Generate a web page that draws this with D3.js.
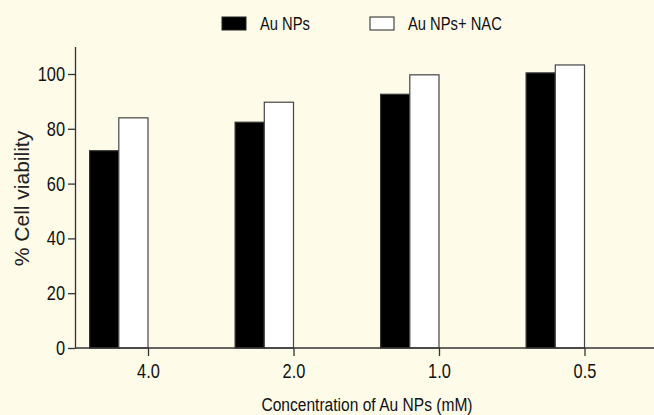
<!DOCTYPE html>
<html lang="en">
<head>
    <meta charset="UTF-8">
    <title>Cell viability</title>
    <script src="https://d3js.org/d3.v7.min.js"></script>
    <style>
        body { margin: 0; background: #fefbe9; }
        svg { display: block; background: #fefbe9; }
        text { font-family: "Liberation Sans", Arial, sans-serif; fill: #111; }
        .axis path, .axis line { stroke: #333; stroke-width: 1.3; }
    </style>
</head>
<body>
<script>
    const width = 654;
    const height = 415;

    const concentrations = ["4.0", "2.0", "1.0", "0.5"];
    const seriesNames = ["Au NPs", "Au NPs+ NAC"];
    const auNPs = [72, 82.4, 92.6, 100.4];
    const auNPsNAC = [84, 89.7, 99.7, 103.3];
    const yTicks = [0, 20, 40, 60, 80, 100];

    const colors = ["#000", "#fff"];
    const NARROW = 0.82; // squeeze Liberation Sans to look like Arial Narrow

    // squeeze text horizontally, keeping its anchor point where it was
    function narrow(sel) {
        sel.each(function() {
            const t = d3.select(this);
            const x0 = +t.attr("x") || 0;
            t.attr("x", x0 / NARROW).attr("transform", `scale(${NARROW},1)`);
        });
    }

    const svg = d3.select("body").append("svg")
        .attr("width", width).attr("height", height);

    const plot = {left: 75, right: 654, top: 46.6, bottom: 348};

    const y = d3.scaleLinear().domain([0, 110]).range([plot.bottom, plot.top]);

    // tick sits at the right edge of each pair of bars
    const x = d3.scalePoint().domain(concentrations).range([148, 584.5]);
    const barW = 29.2;

    const series = [auNPs, auNPsNAC];

    // bars
    series.forEach(function(vals, s) {
        svg.selectAll("rect.s" + s)
            .data(vals)
            .enter()
            .append("rect")
            .attr("class", "s" + s)
            .attr("x", (d, i) => x(concentrations[i]) - barW * (2 - s))
            .attr("width", barW)
            .attr("y", d => y(d))
            .attr("height", d => y(0) - y(d))
            .attr("fill", colors[s])
            .attr("stroke", s === 0 ? "#333" : "#444")
            .attr("stroke-width", 1.2);
    });

    // y axis
    const yAxis = svg.append("g")
        .attr("class", "axis")
        .attr("transform", `translate(${plot.left},0)`)
        .call(d3.axisLeft(y).tickValues(yTicks).tickSize(7).tickSizeOuter(0).tickPadding(3));
    yAxis.selectAll("text").style("font-size", "20px").call(narrow);

    // x axis
    const xAxis = svg.append("g")
        .attr("class", "axis")
        .attr("transform", `translate(0,${plot.bottom})`)
        .call(d3.axisBottom(x).tickSize(8).tickPadding(8));
    xAxis.select(".domain").remove();
    xAxis.append("line")
        .attr("x1", plot.left).attr("x2", plot.right)
        .attr("stroke", "#333").attr("stroke-width", 1.3);
    xAxis.selectAll(".tick text").style("font-size", "20px").call(narrow);

    // axis titles
    svg.append("text")
        .attr("transform", `translate(29,198.5) rotate(-90)`)
        .attr("text-anchor", "middle")
        .style("font-size", "21px")
        .style("fill", "#222")
        .text("% Cell viability");

    svg.append("text")
        .attr("x", 367).attr("y", 411)
        .attr("text-anchor", "middle")
        .style("font-size", "19px")
        .text("Concentration of Au NPs (mM)")
        .call(narrow);

    // legend
    const legendX = [222, 370];
    const legend = svg.selectAll("g.legend")
        .data(seriesNames)
        .enter()
        .append("g")
        .attr("class", "legend")
        .attr("transform", (d, i) => `translate(${legendX[i]},17)`);
    legend.append("rect")
        .attr("width", 24).attr("height", 13)
        .attr("fill", (d, i) => colors[i])
        .attr("stroke", "#222").attr("stroke-width", 1);
    legend.append("text")
        .attr("x", 38).attr("y", 13)
        .style("font-size", "18px")
        .text(d => d)
        .call(narrow);
</script>
</body>
</html>
